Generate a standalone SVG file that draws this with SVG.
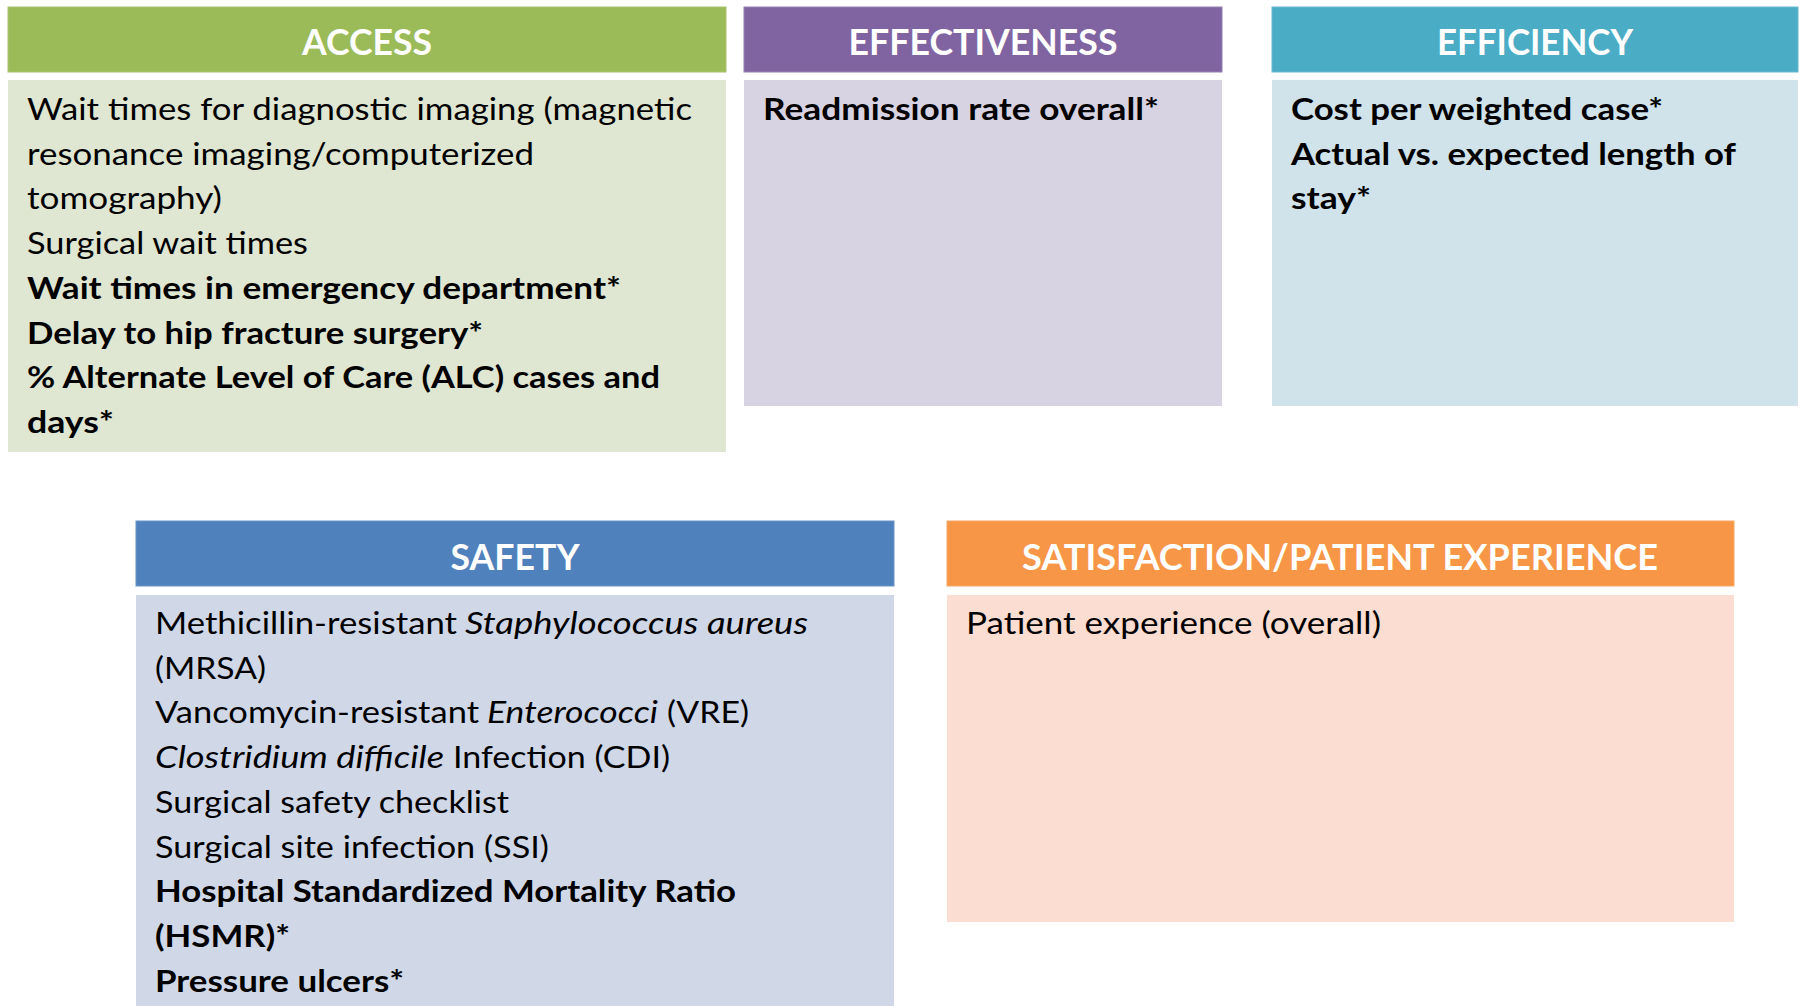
<svg xmlns="http://www.w3.org/2000/svg" width="1802" height="1006" viewBox="0 0 1802 1006">
<style>
.hd{font-family:Lato,"Liberation Sans",sans-serif;font-weight:700;font-size:36px;fill:#ffffff;text-anchor:middle}
.t{font-family:Lato,"Liberation Sans",sans-serif;font-size:30px;fill:#000000}
.b{font-weight:700}
.i{font-style:italic}
</style>
<rect width="1802" height="1006" fill="#ffffff"/>
<g id="access">
<rect x="8" y="7" width="718" height="65" fill="#9BBB59" stroke="#A8C46C" stroke-width="1"/>
<rect x="8" y="80" width="718" height="372" fill="#DFE6D2"/>
<text class="hd" x="367" y="55" textLength="130" lengthAdjust="spacingAndGlyphs">ACCESS</text>
<text class="t" x="27" y="120" textLength="665" lengthAdjust="spacingAndGlyphs">Wait times for diagnostic imaging (magnetic</text>
<text class="t" x="27" y="164.7" textLength="507" lengthAdjust="spacingAndGlyphs">resonance imaging/computerized</text>
<text class="t" x="27" y="209.4" textLength="195" lengthAdjust="spacingAndGlyphs">tomography)</text>
<text class="t" x="27" y="254.1" textLength="281" lengthAdjust="spacingAndGlyphs">Surgical wait times</text>
<text class="t b" x="27" y="298.8" textLength="594" lengthAdjust="spacingAndGlyphs">Wait times in emergency department*</text>
<text class="t b" x="27" y="343.5" textLength="456" lengthAdjust="spacingAndGlyphs">Delay to hip fracture surgery*</text>
<text class="t b" x="27" y="388.2" textLength="633" lengthAdjust="spacingAndGlyphs">% Alternate Level of Care (ALC) cases and</text>
<text class="t b" x="27" y="432.9" textLength="87" lengthAdjust="spacingAndGlyphs">days*</text>
</g>
<g id="effectiveness">
<rect x="744" y="7" width="478" height="65" fill="#8064A2" stroke="#9680B2" stroke-width="1"/>
<rect x="744" y="80" width="478" height="326" fill="#D8D3E2"/>
<text class="hd" x="983" y="55" textLength="269" lengthAdjust="spacingAndGlyphs">EFFECTIVENESS</text>
<text class="t b" x="763" y="120" textLength="396" lengthAdjust="spacingAndGlyphs">Readmission rate overall*</text>
</g>
<g id="efficiency">
<rect x="1272" y="7" width="526" height="65" fill="#4BACC6" stroke="#66B9CF" stroke-width="1"/>
<rect x="1272" y="80" width="526" height="326" fill="#D0E2EA"/>
<text class="hd" x="1535" y="55" textLength="196" lengthAdjust="spacingAndGlyphs">EFFICIENCY</text>
<text class="t b" x="1291" y="120" textLength="372" lengthAdjust="spacingAndGlyphs">Cost per weighted case*</text>
<text class="t b" x="1291" y="164.7" textLength="445" lengthAdjust="spacingAndGlyphs">Actual vs. expected length of</text>
<text class="t b" x="1291" y="209.4" textLength="80" lengthAdjust="spacingAndGlyphs">stay*</text>
</g>
<g id="safety">
<rect x="136" y="521" width="758" height="65" fill="#4F81BD" stroke="#6A94C6" stroke-width="1"/>
<rect x="136" y="595" width="758" height="411" fill="#D0D8E8"/>
<text class="hd" x="515" y="570" textLength="129" lengthAdjust="spacingAndGlyphs">SAFETY</text>
<text class="t" x="155" y="634"><tspan textLength="302" lengthAdjust="spacingAndGlyphs">Methicillin-resistant</tspan><tspan class="i" x="465" textLength="343" lengthAdjust="spacingAndGlyphs">Staphylococcus aureus</tspan></text>
<text class="t" x="155" y="678.7" textLength="111" lengthAdjust="spacingAndGlyphs">(MRSA)</text>
<text class="t" x="155" y="723.4"><tspan textLength="324" lengthAdjust="spacingAndGlyphs">Vancomycin-resistant</tspan><tspan class="i" x="487" textLength="171" lengthAdjust="spacingAndGlyphs">Enterococci</tspan><tspan x="667" textLength="82" lengthAdjust="spacingAndGlyphs">(VRE)</tspan></text>
<text class="t" x="155" y="768.1"><tspan class="i" textLength="289" lengthAdjust="spacingAndGlyphs">Clostridium difficile</tspan><tspan x="453" textLength="217" lengthAdjust="spacingAndGlyphs">Infection (CDI)</tspan></text>
<text class="t" x="155" y="812.8" textLength="354" lengthAdjust="spacingAndGlyphs">Surgical safety checklist</text>
<text class="t" x="155" y="857.5" textLength="394" lengthAdjust="spacingAndGlyphs">Surgical site infection (SSI)</text>
<text class="t b" x="155" y="902.2" textLength="581" lengthAdjust="spacingAndGlyphs">Hospital Standardized Mortality Ratio</text>
<text class="t b" x="155" y="946.9" textLength="135" lengthAdjust="spacingAndGlyphs">(HSMR)*</text>
<text class="t b" x="155" y="991.6" textLength="249" lengthAdjust="spacingAndGlyphs">Pressure ulcers*</text>
</g>
<g id="satisfaction">
<rect x="947" y="521" width="787" height="65" fill="#F79646" stroke="#F8A866" stroke-width="1"/>
<rect x="947" y="595" width="787" height="327" fill="#FCDDD1"/>
<text class="hd" x="1340" y="570" textLength="636" lengthAdjust="spacingAndGlyphs">SATISFACTION/PATIENT EXPERIENCE</text>
<text class="t" x="966" y="634" textLength="415" lengthAdjust="spacingAndGlyphs">Patient experience (overall)</text>
</g>
<g id="connectors"></g>
</svg>
